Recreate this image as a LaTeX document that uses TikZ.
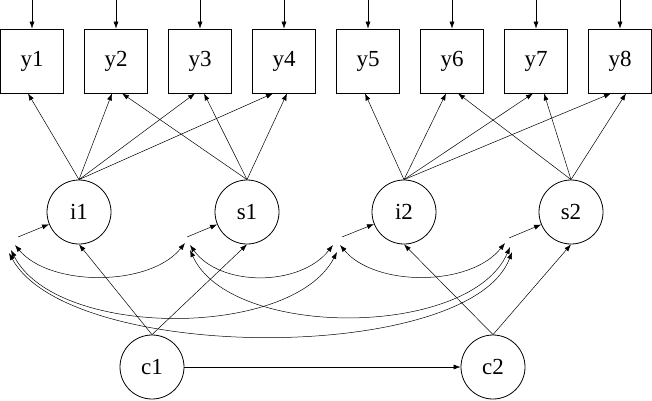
\documentclass[tikz,border=0pt]{standalone}
\usepackage{fontspec}
\setmainfont{Liberation Serif}
\usetikzlibrary{arrows.meta,calc}
\begin{document}
\begin{tikzpicture}[x=1pt,y=-1pt,
  lbl/.style={font=\fontsize{23}{23}\selectfont},
  obs/.style={draw,line width=0.8pt,minimum width=63pt,minimum height=64pt,inner sep=0pt,lbl},
  lat/.style={draw,circle,line width=0.8pt,minimum size=64pt,inner sep=0pt,lbl},
  arr/.style={line width=0.5pt,-{Latex[length=7pt,width=5pt]}},
  cov/.style={line width=0.5pt,{Latex[length=7pt,width=5pt]}-{Latex[length=7pt,width=5pt]}}]
\useasboundingbox (0,0) rectangle (652,400);
% observed
\foreach \n/\x in {1/32,2/116,3/200,4/284,5/368,6/452,7/536,8/620}{
  \node[obs] (y\n) at (\x,61) {y\n};
  \coordinate (t\n) at (\x,0);
  \draw[arr] (t\n) -- (y\n);
}
% latents
\node[lat] (i1) at (79,212) {i1};
\node[lat] (s1) at (247,212) {s1};
\node[lat] (i2) at (404,212) {i2};
\node[lat] (s2) at (571,212) {s2};
\node[lat] (c1) at (152,367) {c1};
\node[lat] (c2) at (493,367) {c2};
% loadings
\draw[arr] (i1.north) -- ([xshift=-4pt]y1.south);
\draw[arr] (i1.north) -- ([xshift=-4pt]y2.south);
\draw[arr] (i1.north) -- ([xshift=-5pt]y3.south);
\draw[arr] (i1.north) -- ([xshift=-11pt]y4.south);
\draw[arr] (s1.north) -- ([xshift=6pt]y2.south);
\draw[arr] (s1.north) -- ([xshift=4pt]y3.south);
\draw[arr] (s1.north) -- ([xshift=3pt]y4.south);
\draw[arr] (i2.north) -- ([xshift=-3pt]y5.south);
\draw[arr] (i2.north) -- ([xshift=-6pt]y6.south);
\draw[arr] (i2.north) -- ([xshift=-3pt]y7.south);
\draw[arr] (i2.north) -- ([xshift=-9pt]y8.south);
\draw[arr] (s2.north) -- ([xshift=6pt]y6.south);
\draw[arr] (s2.north) -- ([xshift=8pt]y7.south);
\draw[arr] (s2.north) -- ([xshift=6pt]y8.south);
% residuals on latents
\coordinate (ri1) at (18,237);
\coordinate (rs1) at (187,237);
\coordinate (ri2) at (342,237);
\coordinate (rs2) at (509,238);
\draw[arr] (ri1) -- (i1);
\draw[arr] (rs1) -- (s1);
\draw[arr] (ri2) -- (i2);
\draw[arr] (rs2) -- (s2);
% covariance end points
\coordinate (ei1a) at (15,245);
\coordinate (ei1b) at (11,250);
\coordinate (ei1c) at (9,253);
\coordinate (es1a) at (185,243);
\coordinate (es1b) at (190,245);
\coordinate (es1c) at (190,250);
\coordinate (ei2a) at (333,245);
\coordinate (ei2b) at (337,252);
\coordinate (ei2c) at (340,245);
\coordinate (es2a) at (505,243);
\coordinate (es2b) at (510,247);
\coordinate (es2c) at (512,252);
\draw[cov] (ei1a) .. controls (50,287) and (150,287) .. (es1a);
\draw[cov] (es1b) .. controls (220,287) and (300,287) .. (ei2a);
\draw[cov] (ei2c) .. controls (375,287) and (470,287) .. (es2a);
\draw[cov] (ei1b) .. controls (56,339) and (292,339) .. (ei2b);
\draw[cov] (es1c) .. controls (230,339) and (470,339) .. (es2b);
\draw[cov] (ei1c) .. controls (70,364) and (470,364) .. (es2c);
% regressions
\draw[arr] (c1.north) -- (i1.south);
\draw[arr] (c1.north) -- (s1.south);
\draw[arr] (c2.north) -- (i2.south);
\draw[arr] (c2.north) -- (s2.south);
\draw[arr] (c1) -- (c2);
\end{tikzpicture}
\end{document}
